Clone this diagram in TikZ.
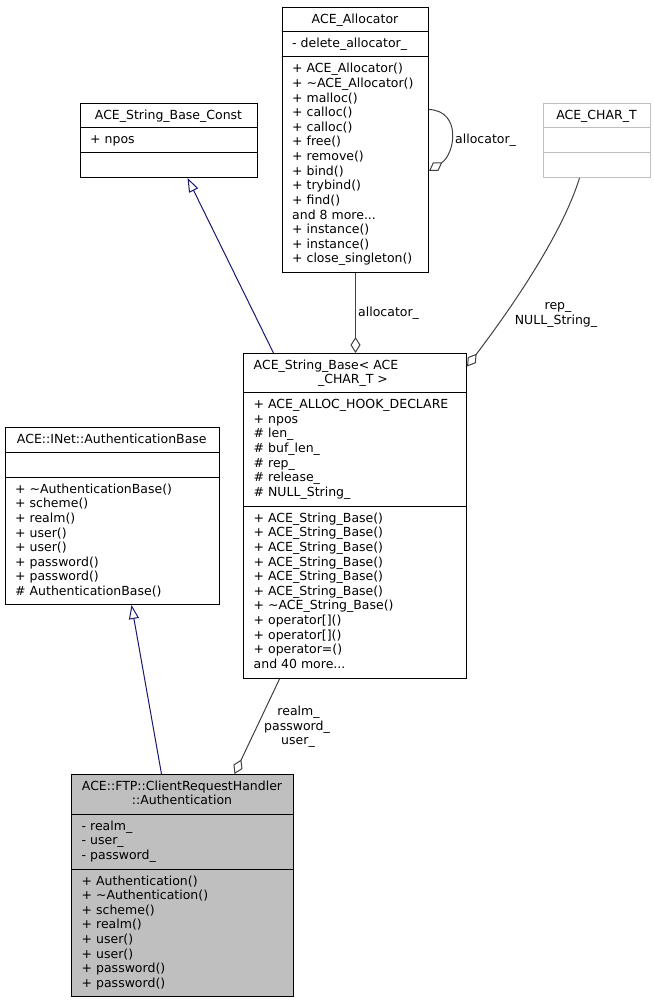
\documentclass[tikz,border=0pt]{standalone}
\usepackage{fontspec}
\setmainfont{DejaVu Sans}
\usetikzlibrary{arrows.meta}
\definecolor{inhcol}{HTML}{191970}
\definecolor{aggcol}{HTML}{404040}
\definecolor{ghost}{HTML}{BFBFBF}
\definecolor{authfill}{HTML}{BFBFBF}
\newcommand\mydots{...}
\newcommand\classlines[5]{%
  \foreach \t [count=\i] in {#5} {\node[txt, anchor=base west] (#1\i) at (#2, {#3+(\i-1)*#4}) {\t};}}
\begin{document}
\begin{tikzpicture}[x=1pt,y=-1pt,
  txt/.style={inner sep=0pt, font=\fontsize{12.5}{14.6}\selectfont},
  cbox/.style={draw=black, line width=1pt, anchor=north west, inner sep=0pt, fill=white},
  sepline/.style={draw=black, line width=1pt},
  inh/.style={draw=inhcol, line width=1pt, -{Triangle[open,length=14pt,width=10pt]}},
  agg/.style={draw=aggcol, line width=1pt, -{Diamond[open,length=16pt,width=10pt]}}]
\useasboundingbox (0,0) rectangle (653,1003);
\fill[white] (0,0) rectangle (653,1003);

% ACE_Allocator
\node[cbox, minimum width=146pt, minimum height=265pt] (alloc) at (282,7) {};
\draw[sepline] (alloc.west |- 0,32) -- (alloc.east |- 0,32);
\draw[sepline] (alloc.west |- 0,57) -- (alloc.east |- 0,57);
\node[txt, anchor=base] (allocT) at (355,23.3) {ACE\_Allocator};
\node[txt, anchor=base west] (allocA) at (292,48) {- delete\_allocator\_};
\classlines{allocM}{292}{73}{14.6}{+ ACE\_Allocator(), + \textasciitilde ACE\_Allocator(), + malloc(), + calloc(), + calloc(), + free(), + remove(), + bind(), + trybind(), + find(), and 8 more\mydots, + instance(), + instance(), + close\_singleton()}

% ACE_String_Base_Const
\node[cbox, minimum width=177pt, minimum height=74pt] (const) at (80,103) {};
\draw[sepline] (const.west |- 0,128) -- (const.east |- 0,128);
\draw[sepline] (const.west |- 0,152.5) -- (const.east |- 0,152.5);
\node[txt, anchor=base] (constT) at (168.5,119.3) {ACE\_String\_Base\_Const};
\node[txt, anchor=base west] (constA) at (90,143.8) {+ npos};

% ACE_CHAR_T
\node[cbox, draw=ghost, minimum width=107pt, minimum height=74pt] (chart) at (543,103) {};
\draw[sepline, draw=ghost] (chart.west |- 0,128) -- (chart.east |- 0,128);
\draw[sepline, draw=ghost] (chart.west |- 0,152.5) -- (chart.east |- 0,152.5);
\node[txt, anchor=base] (chartT) at (596.5,119.3) {ACE\_CHAR\_T};

% ACE_String_Base< ACE_CHAR_T >
\node[cbox, minimum width=223pt, minimum height=325pt] (sb) at (243,353) {};
\draw[sepline] (sb.west |- 0,392.7) -- (sb.east |- 0,392.7);
\draw[sepline] (sb.west |- 0,506) -- (sb.east |- 0,506);
\node[txt, anchor=base west] (sbT1) at (253.5,369) {ACE\_String\_Base< ACE};
\node[txt, anchor=base] (sbT2) at (353,383.6) {\_CHAR\_T >};
\classlines{sbA}{253.5}{408.7}{14.6}{+ ACE\_ALLOC\_HOOK\_DECLARE, + npos, \# len\_, \# buf\_len\_, \# rep\_, \# release\_, \# NULL\_String\_}
\classlines{sbM}{253.5}{522.3}{14.6}{+ ACE\_String\_Base(), + ACE\_String\_Base(), + ACE\_String\_Base(), + ACE\_String\_Base(), + ACE\_String\_Base(), + ACE\_String\_Base(), + \textasciitilde ACE\_String\_Base(), + operator[](), + operator[](), + operator=(), and 40 more\mydots}

% ACE::INet::AuthenticationBase
\node[cbox, minimum width=214pt, minimum height=177pt] (authbase) at (5,427) {};
\draw[sepline] (authbase.west |- 0,452) -- (authbase.east |- 0,452);
\draw[sepline] (authbase.west |- 0,477) -- (authbase.east |- 0,477);
\node[txt, anchor=base] (authbaseT) at (111.8,443.3) {ACE::INet::AuthenticationBase};
\classlines{abM}{15}{493.3}{14.6}{+ \textasciitilde AuthenticationBase(), + scheme(), + realm(), + user(), + user(), + password(), + password(), \# AuthenticationBase()}

% ACE::FTP::ClientRequestHandler::Authentication
\node[cbox, fill=authfill, minimum width=222pt, minimum height=222pt] (auth) at (71,774) {};
\draw[sepline] (auth.west |- 0,814) -- (auth.east |- 0,814);
\draw[sepline] (auth.west |- 0,869) -- (auth.east |- 0,869);
\node[txt, anchor=base] (authT1) at (182,790.3) {ACE::FTP::ClientRequestHandler};
\node[txt, anchor=base] (authT2) at (182,804.6) {::Authentication};
\classlines{auA}{81.5}{830.3}{14.6}{- realm\_, - user\_, - password\_}
\classlines{auM}{81.5}{885}{14.6}{+ Authentication(), + \textasciitilde Authentication(), + scheme(), + realm(), + user(), + user(), + password(), + password()}

% connectors
\draw[inh] ([xshift=-81.5pt]sb.north) -- ([xshift=18.5pt]const.south);
\draw[agg] (alloc.south) -- (alloc.south |- sb.north);
\draw[agg] ([yshift=30.5pt]alloc.east) .. controls (462,111) and (455,154) .. ([yshift=-31pt]alloc.east);
\draw[agg] ([xshift=-17.5pt]chart.south) .. controls (565,225) and (525,290) .. ([yshift=149.5pt]sb.east);
\draw[inh] ([xshift=-21pt]auth.north) -- ([xshift=19pt]authbase.south);
\draw[agg] ([xshift=-75.5pt]sb.south) -- ([xshift=52pt]auth.north);

% connector labels
\node[txt, anchor=base west] (lblalloc) at (358,316.5) {allocator\_};
\node[txt, anchor=base west] (lblself) at (455,143.5) {allocator\_};
\node[txt, anchor=base] (lblrep) at (558,309.5) {rep\_};
\node[txt, anchor=base] (lblnull) at (556,324) {NULL\_String\_};
\node[txt, anchor=base] (lblrealm) at (298.5,715.5) {realm\_};
\node[txt, anchor=base] (lblpw) at (297,730) {password\_};
\node[txt, anchor=base] (lbluser) at (298,744.5) {user\_};
\end{tikzpicture}
\end{document}
